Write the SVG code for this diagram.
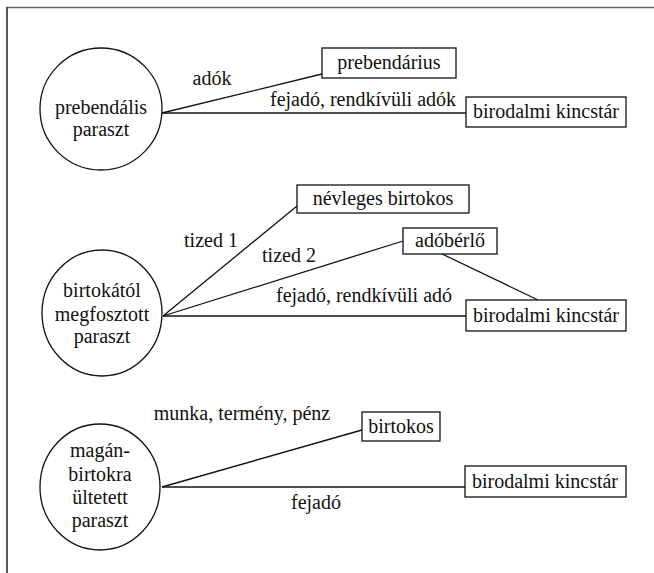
<svg xmlns="http://www.w3.org/2000/svg" width="654" height="573" viewBox="0 0 654 573">
<style>
text{font-family:'Liberation Serif','DejaVu Serif',serif;font-size:20px;fill:#111;text-anchor:middle;}
.node{fill:#fff;stroke:#111;stroke-width:1.3;}
.edge{stroke:#111;stroke-width:1.3;fill:none;}
</style>
<rect width="654" height="573" fill="#fff"/>
<line x1="7" y1="7.5" x2="654" y2="7.5" stroke="#666" stroke-width="1.5"/>
<line x1="7" y1="7" x2="7" y2="573" stroke="#222" stroke-width="1.5"/>
<g id="connectors">
<line class="edge" x1="162" y1="113" x2="322" y2="74"/>
<line class="edge" x1="162" y1="113" x2="466" y2="113"/>
<line class="edge" x1="163" y1="316" x2="297" y2="206"/>
<line class="edge" x1="163" y1="316" x2="403" y2="241"/>
<line class="edge" x1="163" y1="316" x2="466" y2="316"/>
<line class="edge" x1="442" y1="254" x2="538" y2="300"/>
<line class="edge" x1="162" y1="487" x2="362" y2="430"/>
<line class="edge" x1="162" y1="487" x2="465" y2="487"/>
<text x="212" y="85">adók</text>
<text x="363" y="106">fejadó, rendkívüli adók</text>
<text x="211" y="247">tized 1</text>
<text x="289" y="262">tized 2</text>
<text x="364" y="302">fejadó, rendkívüli adó</text>
<text x="242" y="420">munka, termény, pénz</text>
<text x="316" y="509">fejadó</text>
</g>
<g id="n1">
<circle class="node" cx="101" cy="109" r="61"/>
<text x="101" y="114">prebendális</text>
<text x="101" y="136">paraszt</text>
</g>
<g id="n2">
<rect class="node" x="322" y="48" width="134" height="30"/>
<text x="389" y="69">prebendárius</text>
</g>
<g id="n3">
<rect class="node" x="466" y="97" width="160" height="30"/>
<text x="546" y="118">birodalmi kincstár</text>
</g>
<g id="n4">
<ellipse class="node" cx="102" cy="313" rx="60" ry="63"/>
<text x="102" y="297">birtokától</text>
<text x="102" y="321">megfosztott</text>
<text x="102" y="343">paraszt</text>
</g>
<g id="n5">
<rect class="node" x="297" y="185" width="172" height="28"/>
<text x="383" y="205">névleges birtokos</text>
</g>
<g id="n6">
<rect class="node" x="403" y="228" width="94" height="26"/>
<text x="450" y="247">adóbérlő</text>
</g>
<g id="n7">
<rect class="node" x="466" y="300" width="160" height="31"/>
<text x="546" y="322">birodalmi kincstár</text>
</g>
<g id="n8">
<ellipse class="node" cx="100" cy="487" rx="60" ry="63"/>
<text x="100" y="457">magán-</text>
<text x="100" y="481">birtokra</text>
<text x="100" y="504">ültetett</text>
<text x="100" y="527">paraszt</text>
</g>
<g id="n9">
<rect class="node" x="362" y="412" width="78" height="29"/>
<text x="401" y="433">birtokos</text>
</g>
<g id="n10">
<rect class="node" x="465" y="466" width="161" height="31"/>
<text x="545" y="488">birodalmi kincstár</text>
</g>
</svg>
